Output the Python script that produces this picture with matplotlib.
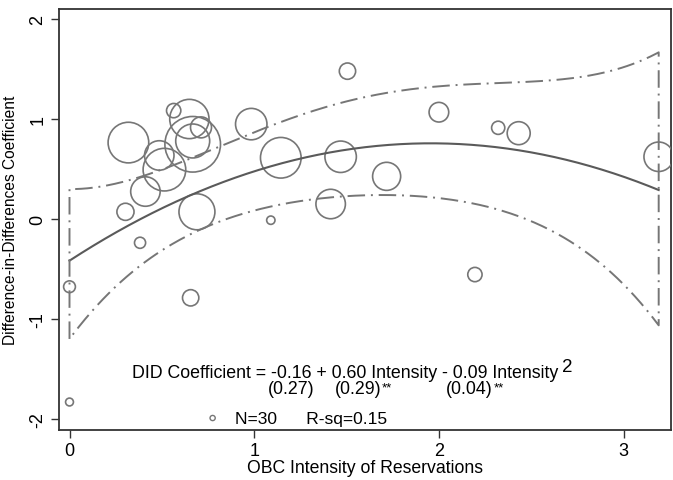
import numpy as np
import matplotlib
matplotlib.use("Agg")
import matplotlib.pyplot as plt

plt.rcParams['font.family'] = ['Liberation Sans', 'DejaVu Sans']
plt.rcParams['axes.unicode_minus'] = False

# ---- data ----
intensity = [0.319, 0.486, 0.514, 0.411, 0.303, 0.382, 0.564, 0.649, 0.712, 0.667,
             0.667, 0.690, 0.984, 1.144, 1.090, 1.505, 1.468, 1.717, 1.414, 2.000,
             2.321, 2.432, 3.190, 2.195, 0.000, 0.656, 0.000]
did_coef = [0.767, 0.638, 0.496, 0.277, 0.074, -0.236, 1.087, 1.003, 0.919, 0.750,
            0.783, 0.074, 0.952, 0.615, -0.010, 1.482, 0.625, 0.429, 0.152, 1.071,
            0.915, 0.861, 0.625, -0.554, -0.676, -0.787, -1.830]
weight = [428, 225, 471, 225, 76, 32, 53, 400, 114, 801,
          299, 335, 256, 428, 18, 69, 256, 204, 225, 100,
          45, 137, 225, 53, 36, 69, 16]

# fitted quadratic (intercept, linear, squared) as drawn
fit_coef = [-0.415, 1.201, -0.307]
# confidence band readings
upper_x = [0.0, 0.342, 0.612, 0.90, 1.063, 1.297, 1.459, 2.0, 2.54, 2.9, 3.19]
upper_y = [0.31, 0.395, 0.547, 0.80, 0.935, 1.087, 1.172, 1.29, 1.375, 1.51, 1.651]
lower_x = [0.0, 0.115, 0.44, 0.70, 0.973, 1.297, 1.874, 2.595, 2.955, 3.19]
lower_y = [-1.21, -0.92, -0.40, -0.085, 0.074, 0.159, 0.25, -0.078, -0.618, -1.04]

xticks = [0, 1, 2, 3]
yticks = [-2, -1, 0, 1, 2]

eq_main = "DID Coefficient = -0.16 + 0.60 Intensity - 0.09 Intensity"
eq_se = ["(0.27)", "(0.29)", "(0.04)"]
eq_stars = ["", "**", "**"]
legend_label = "N=30      R-sq=0.15"

# ---- figure ----
W, H = 673, 481
fig = plt.figure(figsize=(W / 100, H / 100), dpi=100)
L, R, T, B = 58.8, 671.2, 10, 431
ax = fig.add_axes([L / W, 1 - B / H, (R - L) / W, (B - T) / H])

def px2x(px):
    return (px - 69.5) / 184.7

def px2y(py):
    return (220.2 - py) / 99.9

grey = '#767676'
ax.scatter(intensity, did_coef, s=np.array(weight) * 2.0, facecolors='none',
           edgecolors=grey, linewidths=1.2, zorder=3)

xs = np.linspace(0, max(intensity), 300)
fit = np.polyval(fit_coef[::-1], xs)
ax.plot(xs, fit, color='#5a5a5a', lw=1.5, zorder=4)

up = np.polyval(np.polyfit(upper_x, upper_y, 4), xs)
lo = np.polyval(np.polyfit(lower_x, lower_y, 4), xs)
bx = np.concatenate([[0], xs, xs[::-1], [0]])
by = np.concatenate([[lo[0]], up, lo[::-1], [lo[0]]])
ax.plot(bx, by, color=grey, lw=1.4, linestyle=(0, (9, 3, 1, 3)), zorder=4)

ax.set_xlim(px2x(L), px2x(R))
ax.set_ylim(px2y(B), px2y(T))
ax.set_xticks(xticks)
ax.set_yticks(yticks)
ax.tick_params(direction='out', length=5.5, width=1, color='#333333', labelsize=13)
ax.tick_params(axis='x', pad=3.5)
for lab in ax.get_yticklabels():
    lab.set_rotation(90)
    lab.set_va('center')
for sp in ax.spines.values():
    sp.set_color('#333333')
    sp.set_linewidth(1.3)

ax.set_xlabel("OBC Intensity of Reservations", fontsize=12.7, labelpad=0)
ax.set_ylabel("Difference-in-Differences Coefficient", fontsize=11.2, labelpad=8)

# annotation text
t_eq = ax.text(px2x(131.8), px2y(373.5), eq_main, fontsize=12.8, va='center', ha='left')
ax.annotate("2", xy=(1, 0.5), xycoords=t_eq, xytext=(3, 4), textcoords='offset points',
            fontsize=13.5, va='center', ha='left')
se_px = [268, 334.8, 446]
for xx, s, st in zip(se_px, eq_se, eq_stars):
    t = ax.text(px2x(xx), px2y(390), s, fontsize=12.8, va='center', ha='left')
    if st:
        ax.annotate(st, xy=(1, 1), xycoords=t, xytext=(0.5, -0.5), textcoords='offset points',
                    fontsize=9.5, va='top', ha='left')

h = ax.scatter([], [], s=14, facecolors='none', edgecolors=grey, linewidths=1.0)
ax.legend([h], [legend_label], loc='center left',
          bbox_to_anchor=((197 - L) / (R - L), (B - 419) / (B - T)),
          frameon=False, fontsize=12.5, handlelength=1.0, handletextpad=0.8,
          borderaxespad=0)

fig.savefig("out.png", dpi=100)
